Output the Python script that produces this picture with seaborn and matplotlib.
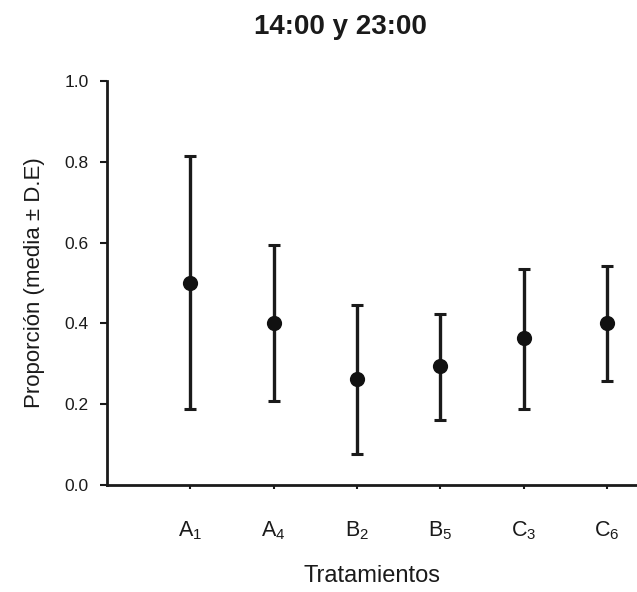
import matplotlib
matplotlib.use("Agg")
import matplotlib.pyplot as plt
import seaborn as sns
import pandas as pd
import numpy as np

# Data
categories = ["A$_1$", "A$_4$", "B$_2$", "B$_5$", "C$_3$", "C$_6$"]
means = [0.50, 0.40, 0.263, 0.294, 0.364, 0.401]
upper = [0.814, 0.594, 0.446, 0.423, 0.534, 0.543]
lower = [0.188, 0.208, 0.076, 0.162, 0.189, 0.258]
yticks = [0.0, 0.2, 0.4, 0.6, 0.8, 1.0]

sns.set_style("ticks")
fams = ["Liberation Sans Narrow", "Liberation Sans", "DejaVu Sans"]
plt.rcParams["font.family"] = fams
plt.rcParams["mathtext.default"] = "regular"

df = pd.DataFrame({"cat": categories, "mean": means, "lo": lower, "hi": upper})
df["x"] = np.arange(len(df))

fig = plt.figure(figsize=(6.37, 5.92), dpi=100)
ax = fig.add_axes([107 / 637, 1 - 485 / 592, 1 - 107 / 637, (485 - 81) / 592])

yerr = np.vstack([df["mean"] - df["lo"], df["hi"] - df["mean"]])
ax.errorbar(df["x"], df["mean"], yerr=yerr, fmt="none", ecolor="#1a1a1a",
            elinewidth=2.4, capsize=4, capthick=2.2, zorder=2)
sns.scatterplot(data=df, x="x", y="mean", ax=ax, color="#111111", s=120,
                edgecolor="#111111", linewidth=0, zorder=3, legend=False)

ax.set_xlim(-1, 5.36)
ax.set_ylim(0, 1.0)
ax.set_yticks(yticks)
ax.set_yticklabels([f"{v:.1f}" for v in yticks])
ax.set_xticks(df["x"])
ax.set_xticklabels(df["cat"])
ax.tick_params(axis="y", labelsize=12.5, length=5, width=1.5, pad=8, colors="#1a1a1a")
ax.tick_params(axis="x", labelsize=15.5, length=3, width=1.5, pad=22, colors="#1a1a1a")

for s in ["top", "right"]:
    ax.spines[s].set_visible(False)
for s in ["left", "bottom"]:
    ax.spines[s].set_linewidth(2.0)
    ax.spines[s].set_color("#1a1a1a")

ax.set_xlabel("Tratamientos", fontsize=17, labelpad=16, color="#1a1a1a")
ax.set_ylabel("Proporción (media ± D.E)", fontsize=16, labelpad=14, color="#1a1a1a")
fig.text(340 / 637, 1 - 27 / 592, "14:00 y 23:00", ha="center", va="center",
         fontsize=20, fontweight="bold", color="#1a1a1a")

fig.savefig("out.png", dpi=100)
